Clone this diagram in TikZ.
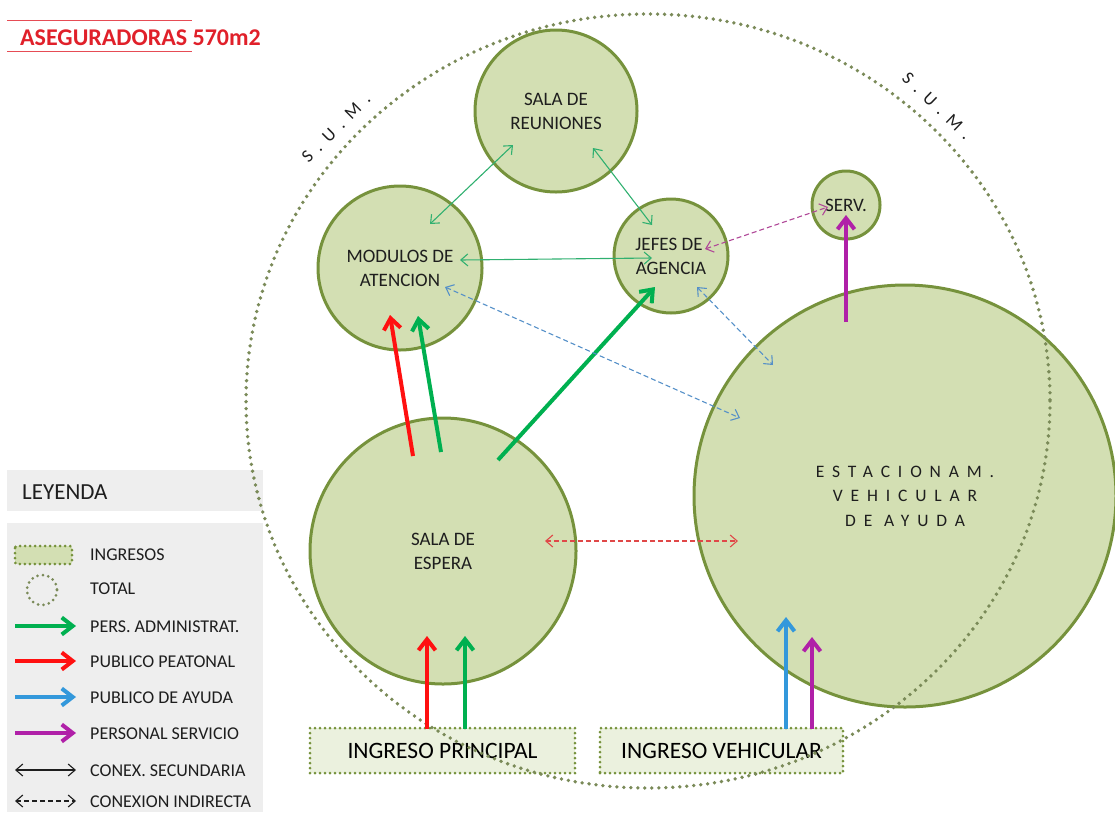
\documentclass[tikz,border=0pt]{standalone}
\usepackage{fontspec}
\setmainfont{Carlito}
\usetikzlibrary{arrows.meta,calc}
\definecolor{cfill}{HTML}{D3DFB3}
\definecolor{cline}{HTML}{76923C}
\definecolor{bfill}{HTML}{EBF1DE}
\definecolor{dotc}{HTML}{7A8A58}
\definecolor{lgray}{HTML}{EEEEEE}
\definecolor{txt}{HTML}{1E1E1E}
\definecolor{agreen}{HTML}{00B050}
\definecolor{ared}{HTML}{FF1010}
\definecolor{ablue}{HTML}{3398DB}
\definecolor{amag}{HTML}{B020A8}
\definecolor{tgreen}{HTML}{30B070}
\definecolor{dblue}{HTML}{5590C8}
\definecolor{dmag}{HTML}{B04898}
\definecolor{dred}{HTML}{E04848}
\definecolor{titred}{HTML}{E0202A}
\tikzset{
  room/.style={circle, draw=cline, fill=cfill, line width=3, inner sep=0pt, text=txt, align=center, font=\fontsize{19}{24}\selectfont},
  entry/.style={rectangle, draw=cline, fill=bfill, line width=3, dash pattern=on 0pt off 5pt, line cap=round, text=black, font=\fontsize{23.5}{26}\selectfont, inner sep=0pt},
  bigarrow/.style={line width=4, -{Straight Barb[length=11,width=17]}},
  thinarrow/.style={line width=1.1, {Straight Barb[length=7,width=12]}-{Straight Barb[length=7,width=12]}},
  dasharrow/.style={line width=1.1, dash pattern=on 5pt off 3pt, {Straight Barb[length=7,width=12]}-{Straight Barb[length=7,width=12]}},
  legtext/.style={anchor=west, text=txt, font=\fontsize{18}{20}\selectfont, inner sep=0pt},
  sum/.style={text=txt, font=\fontsize{18}{20}\selectfont, inner sep=0pt}
}
\newcommand{\spc}{\kern8pt}
\begin{document}
\begin{tikzpicture}[x=1pt,y=-1pt]
\useasboundingbox (0,0) rectangle (1115,812);
% title
\draw[titred!80, line width=0.8] (7,20) -- (192,20);
\draw[titred!80, line width=0.8] (7,51) -- (192,51);
\node[anchor=west, text=titred, font=\fontsize{24}{26}\selectfont\bfseries, inner sep=0pt] (title) at (20,38) {ASEGURADORAS 570m2};
% legend
\fill[lgray] (7,470) rectangle (263,511);
\node[anchor=west, text=txt, font=\fontsize{23}{25}\selectfont, inner sep=0pt] (ley) at (22,492) {LEYENDA};
\fill[lgray] (7,523) rectangle (263,812);
\draw[draw=cline, fill=cfill, line width=3, dash pattern=on 0pt off 5pt, line cap=round, rounded corners=2] (15,546) rectangle (72,564);
\draw[draw=dotc, line width=3, dash pattern=on 0pt off 5.5pt, line cap=round] (42,590) circle (15);
\coordinate (la1) at (15,626); \coordinate (lb1) at (76,626);
\coordinate (la2) at (15,661); \coordinate (lb2) at (76,661);
\coordinate (la3) at (15,697); \coordinate (lb3) at (76,697);
\coordinate (la4) at (15,733); \coordinate (lb4) at (76,733);
\coordinate (la5) at (15,770); \coordinate (lb5) at (76,770);
\coordinate (la6) at (15,801); \coordinate (lb6) at (76,801);
\draw[bigarrow, agreen] (la1) -- (lb1);
\draw[bigarrow, ared] (la2) -- (lb2);
\draw[bigarrow, ablue] (la3) -- (lb3);
\draw[bigarrow, amag] (la4) -- (lb4);
\draw[thinarrow, txt] (la5) -- (lb5);
\draw[dasharrow, txt] (la6) -- (lb6);
\node[legtext] (t0) at (90,555) {INGRESOS};
\node[legtext] (t1) at (90,589) {TOTAL};
\node[legtext] (t2) at (90,627) {PERS. ADMINISTRAT.};
\node[legtext] (t3) at (90,662) {PUBLICO PEATONAL};
\node[legtext] (t4) at (90,698) {PUBLICO DE AYUDA};
\node[legtext] (t5) at (90,734) {PERSONAL SERVICIO};
\node[legtext] (t6) at (90,771) {CONEX. SECUNDARIA};
\node[legtext] (t7) at (90,802) {CONEXION INDIRECTA};
% rooms
\node[room, minimum size=162] (reun) at (556,111) {SALA DE\\REUNIONES};
\node[room, minimum size=164] (mod) at (400,268) {MODULOS DE\\ATENCION};
\node[room, minimum size=114] (jefes) at (671,256) {\hspace*{-4pt}JEFES DE\\AGENCIA};
\node[room, minimum size=68] (serv) at (846,205) {SERV.};
\node[room, minimum size=266] (espera) at (443,551) {SALA DE\\ESPERA};
\node[room, minimum size=422, font=\fontsize{17.5}{24.5}\selectfont\addfontfeature{LetterSpace=45}] (est) at (905,496) {ESTACIONAM.\\VEHICULAR\\DE AYUDA};
% entries
\node[entry, minimum width=265, minimum height=45] (ip) at (442.5,750.5) {INGRESO PRINCIPAL};
\node[entry, minimum width=243, minimum height=45] (iv) at (721.5,750.5) {INGRESO VEHICULAR};
% total dotted ellipse
\draw[draw=dotc, line width=3.8, dash pattern=on 0pt off 7pt, line cap=round] (648,401) ellipse [x radius=402, y radius=387];
\node[sum, rotate=45] (sum1) at (336,128) {S\spc.\spc U\spc.\spc M\spc.};
\node[sum, rotate=-44] (sum2) at (937,106) {S\spc.\spc U\spc.\spc M\spc.};
% thick arrows
\draw[bigarrow, ared] ($(espera.center)+(-30,-95)$) -- ($(mod.center)+(-10,47)$);
\draw[bigarrow, agreen] ($(espera.center)+(-2,-99)$) -- ($(mod.center)+(18,48)$);
\draw[bigarrow, agreen] ($(espera.center)+(55,-91)$) -- ($(jefes.center)+(-16,31)$);
\draw[bigarrow, ared] ($(ip.center)+(-15.5,-22)$) -- ($(espera.center)+(-16,85)$);
\draw[bigarrow, agreen] ($(ip.center)+(22.5,-22)$) -- ($(espera.center)+(22,85)$);
\draw[bigarrow, ablue] ($(iv.center)+(64.5,-22)$) -- ($(est.center)+(-119,121)$);
\draw[bigarrow, amag] ($(iv.center)+(90.5,-22)$) -- ($(est.center)+(-93,141)$);
\draw[bigarrow, amag] ($(est.center)+(-59,-174)$) -- ($(serv.center)+(0,10)$);
% thin arrows
\draw[thinarrow, tgreen] ($(mod.center)+(30,-44)$) -- ($(reun.center)+(-43,34)$);
\draw[thinarrow, tgreen] ($(reun.center)+(37,37)$) -- ($(jefes.center)+(-19,-31)$);
\draw[thinarrow, tgreen] ($(mod.center)+(60,-8)$) -- ($(jefes.center)+(-19,2)$);
\draw[dasharrow, dmag] ($(jefes.center)+(34,-7)$) -- ($(serv.center)+(-18,2)$);
\draw[dasharrow, dblue] ($(jefes.center)+(26,31)$) -- ($(est.center)+(-132,-131)$);
\draw[dasharrow, dblue] ($(mod.center)+(45,19)$) -- ($(est.center)+(-165,-78)$);
\draw[dasharrow, dred] ($(espera.center)+(102,-10)$) -- ($(est.center)+(-167,45)$);
\end{tikzpicture}
\end{document}
